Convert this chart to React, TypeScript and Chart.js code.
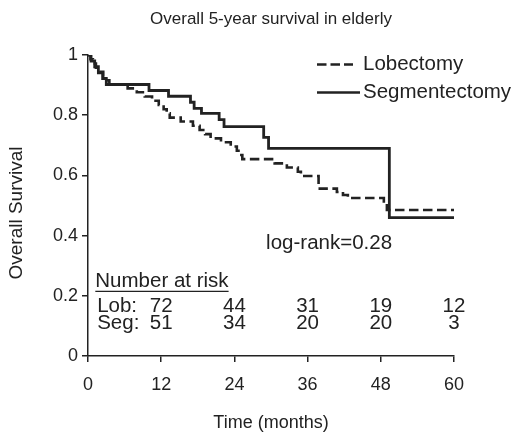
import { useEffect, useRef } from "react";
import { Chart, registerables } from "chart.js";
Chart.register(...registerables);

const chartTitle = "Overall 5-year survival in elderly";
const yTitle = "Overall Survival";
const xTitle = "Time (months)";
const seriesNames = ["Lobectomy", "Segmentectomy"];
const rowLabels = ["Lob:", "Seg:"];

const lobMonths = [0, 0.4, 0.8, 1.3, 1.9, 2.5, 3.0, 3.5, 6.5, 8.0, 9.3, 10.5, 11.6, 12.4, 12.9, 13.4, 15.2, 17.2, 18.3, 19.2, 20.1, 21.8, 23.4, 24.4, 24.9, 25.3, 30.6, 32.6, 34.4, 34.9, 37.8, 38.0, 40.8, 41.8, 42.6, 48.5, 49.0, 60];
const lobSurvival = [1, 0.986, 0.972, 0.958, 0.944, 0.93, 0.916, 0.903, 0.889, 0.876, 0.862, 0.848, 0.834, 0.82, 0.806, 0.792, 0.779, 0.765, 0.751, 0.737, 0.723, 0.71, 0.696, 0.682, 0.668, 0.654, 0.64, 0.626, 0.612, 0.598, 0.57, 0.556, 0.545, 0.535, 0.525, 0.505, 0.485, 0.485];

const segMonths = [0, 0.5, 1.1, 1.7, 2.4, 3.0, 10.0, 13.2, 16.8, 17.4, 18.6, 21.5, 22.3, 28.8, 29.6, 49.4, 60];
const segSurvival = [1, 0.98, 0.961, 0.941, 0.922, 0.902, 0.882, 0.863, 0.843, 0.823, 0.806, 0.785, 0.762, 0.726, 0.69, 0.46, 0.46];

const riskTimes = [12, 24, 36, 48, 60];
const lobAtRisk = [72, 44, 31, 19, 12];
const segAtRisk = [51, 34, 20, 20, 3];
const logRankText = "log-rank=0.28";

const FONT = "'Liberation Sans', Arial, Helvetica, sans-serif";
const INK = "#222";

export default function App() {
  const ref = useRef<HTMLCanvasElement | null>(null);
  useEffect(() => {
    if (!ref.current) return;
    const toPts = (xs: number[], ys: number[]) => xs.map((x, i) => ({ x, y: ys[i] }));
    const overlay = {
      id: "overlay",
      afterDraw(chart: any) {
        const ctx = chart.ctx as CanvasRenderingContext2D;
        const xs = chart.scales.x;
        const ys = chart.scales.y;
        const ca = chart.chartArea;
        ctx.save();
        ctx.fillStyle = INK;
        ctx.strokeStyle = INK;
        ctx.textBaseline = "middle";
        // title
        ctx.font = `17px ${FONT}`;
        ctx.textAlign = "center";
        ctx.fillText(chartTitle, (ca.left + ca.right) / 2, 19);
        // y axis title
        ctx.save();
        ctx.font = `19px ${FONT}`;
        ctx.translate(17, 213);
        ctx.rotate(-Math.PI / 2);
        ctx.fillText(yTitle, 0, 0);
        ctx.restore();
        // legend
        ctx.font = `20.5px ${FONT}`;
        ctx.textAlign = "left";
        const legY = [64.5, 92.5];
        const legEnd = [353, 360];
        ctx.lineWidth = 2.6;
        for (let i = 0; i < 2; i++) {
          ctx.beginPath();
          ctx.setLineDash(i === 0 ? [9.5, 4] : []);
          ctx.moveTo(317, legY[i]);
          ctx.lineTo(legEnd[i], legY[i]);
          ctx.stroke();
          ctx.fillText(seriesNames[i], 363, legY[i]);
        }
        ctx.setLineDash([]);
        // log-rank
        ctx.fillText(logRankText, xs.getPixelForValue(29.2), ys.getPixelForValue(0.373));
        // number at risk
        const hx = xs.getPixelForValue(1.2);
        const hy = ys.getPixelForValue(0.248);
        ctx.fillText("Number at risk", hx, hy);
        const w = ctx.measureText("Number at risk").width;
        ctx.lineWidth = 1.2;
        ctx.beginPath();
        ctx.moveTo(hx, hy + 10);
        ctx.lineTo(hx + w, hy + 10);
        ctx.stroke();
        const rows = [lobAtRisk, segAtRisk];
        const rowY = [0.165, 0.107];
        for (let r = 0; r < 2; r++) {
          const y = ys.getPixelForValue(rowY[r]);
          ctx.textAlign = "left";
          ctx.fillText(rowLabels[r], xs.getPixelForValue(1.5), y);
          ctx.textAlign = "center";
          rows[r].forEach((n, i) => ctx.fillText(String(n), xs.getPixelForValue(riskTimes[i]), y));
        }
        ctx.restore();
      },
    };
    const chart = new Chart(ref.current, {
      type: "line",
      data: {
        datasets: [
          {
            label: seriesNames[0],
            data: toPts(lobMonths, lobSurvival),
            borderColor: INK,
            borderWidth: 2.6,
            borderDash: [9.5, 4.5],
            stepped: "before",
            pointRadius: 0,
            fill: false,
          },
          {
            label: seriesNames[1],
            data: toPts(segMonths, segSurvival),
            borderColor: INK,
            borderWidth: 2.8,
            stepped: "before",
            pointRadius: 0,
            fill: false,
          },
        ],
      },
      options: {
        responsive: false,
        animation: false,
        layout: { padding: { left: 0, right: 68, top: 55, bottom: 0 } },
        plugins: { legend: { display: false }, title: { display: false }, tooltip: { enabled: false } },
        scales: {
          x: {
            type: "linear",
            min: 0,
            max: 60,
            afterFit: (s: any) => { s.height = 80; },
            ticks: { stepSize: 12, color: INK, font: { size: 18, family: FONT }, padding: 12, maxRotation: 0 },
            grid: { drawOnChartArea: false, drawTicks: true, tickLength: 6, color: INK, lineWidth: 1.5 },
            border: { display: true, color: INK, width: 1.5 },
            title: { display: true, text: xTitle, color: INK, font: { size: 18, family: FONT }, padding: { top: 0, bottom: 2 } },
          },
          y: {
            type: "linear",
            min: 0,
            max: 1,
            afterFit: (s: any) => { s.width = 88; },
            ticks: {
              stepSize: 0.2,
              color: INK,
              font: { size: 18, family: FONT },
              padding: 4,
              callback: (v: any) => String(Math.round(Number(v) * 10) / 10),
            },
            grid: { drawOnChartArea: false, drawTicks: true, tickLength: 6, color: INK, lineWidth: 1.5 },
            border: { display: true, color: INK, width: 1.5 },
            title: { display: false },
          },
        },
      },
      plugins: [overlay],
    });
    return () => chart.destroy();
  }, []);
  return (
    <div style={{ position: "fixed", left: 0, top: 0, width: 522, height: 436, background: "#fff" }}>
      <canvas ref={ref} width={522} height={436} />
    </div>
  );
}
